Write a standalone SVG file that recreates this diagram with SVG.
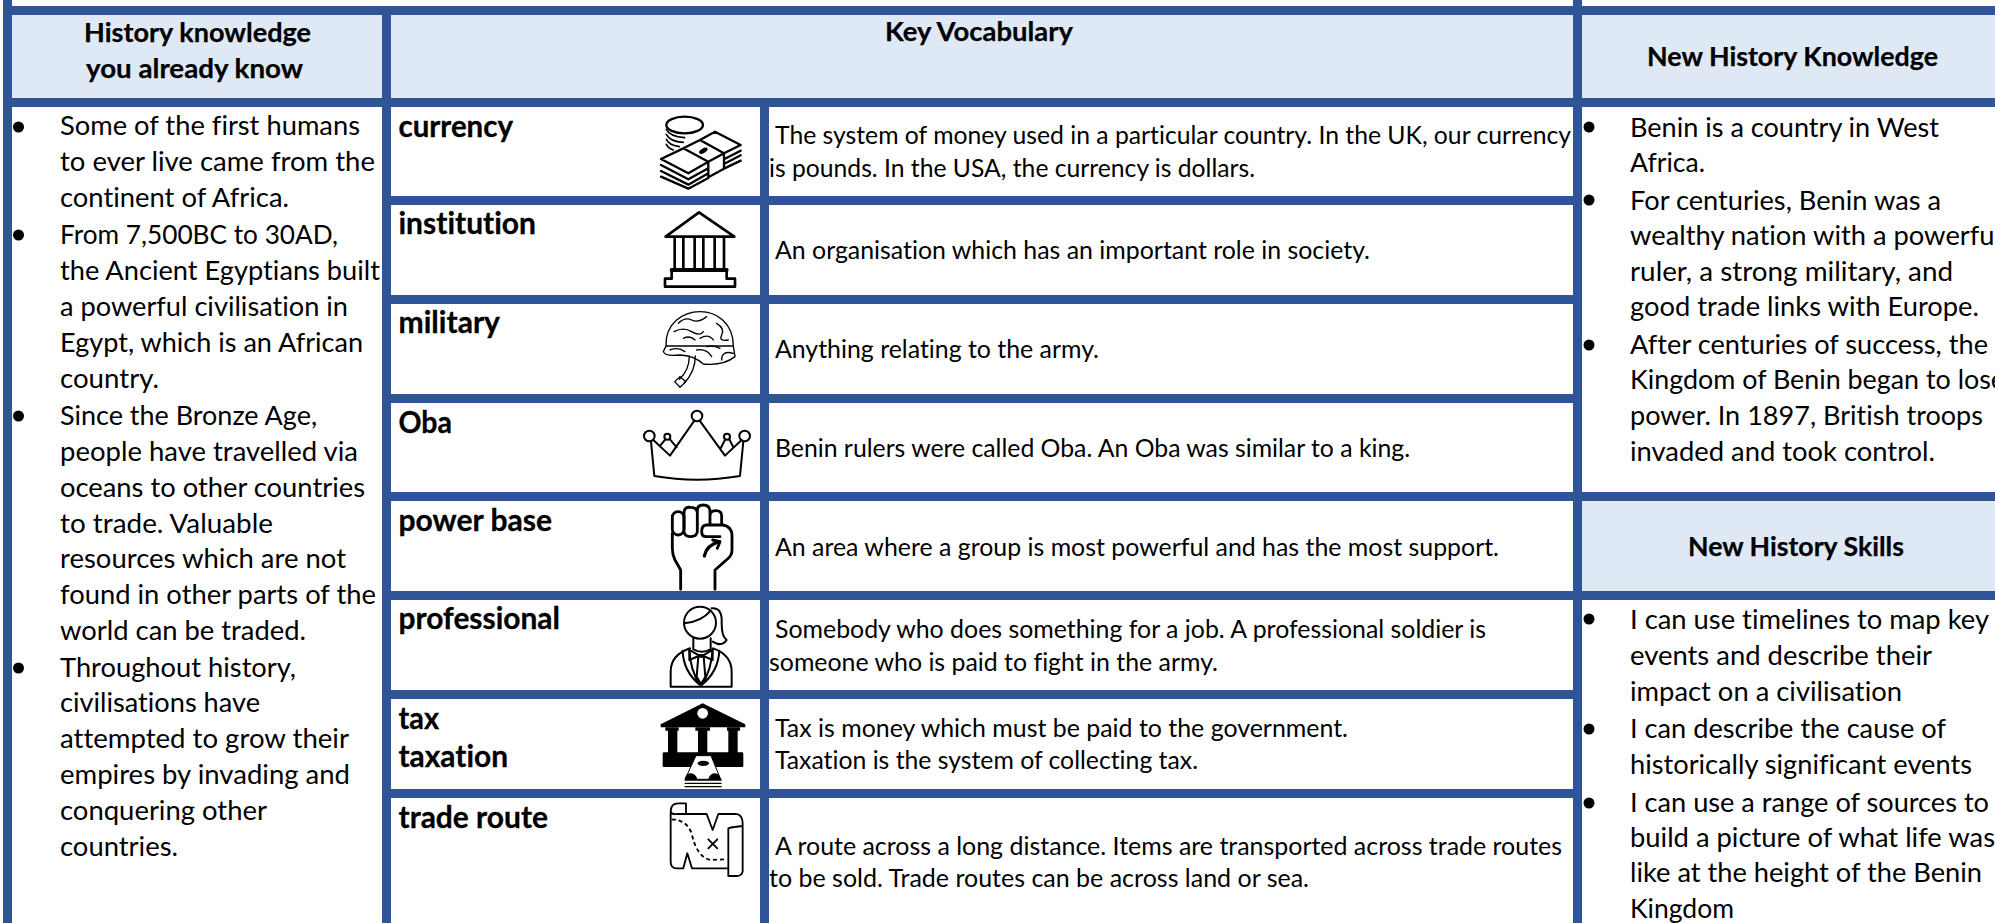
<svg xmlns="http://www.w3.org/2000/svg" width="1995" height="923" viewBox="0 0 1995 923">
<style>
text{font-family:Lato,"Liberation Sans",sans-serif;fill:#000;font-variant-ligatures:none}
.b{font-size:27.5px}
.d{font-size:24.5px}
.w{font-size:29.5px;font-weight:700;stroke:#000;stroke-width:.3}
.h{font-size:27.5px;font-weight:700;stroke:#000;stroke-width:.25}
.bar{fill:#2F5597}
.hd{fill:#DEE9F5}
.i{fill:none;stroke:#000;stroke-width:7;stroke-linejoin:round;stroke-linecap:round}
.t{stroke-width:4}
.k{fill:#000;stroke:none}
</style>
<rect width="1995" height="923" fill="#fff"/>
<g id="headers-fill">
<rect class="hd" x="12" y="15" width="370" height="83"/>
<rect class="hd" x="391" y="15" width="1182" height="83"/>
<rect class="hd" x="1582" y="15" width="413" height="83"/>
<rect class="hd" x="1582" y="501" width="413" height="90"/>
</g>
<g id="grid">
<rect class="bar" x="3" y="6" width="1992" height="9"/>
<rect class="bar" x="3" y="98" width="1992" height="9"/>
<rect class="bar" x="3" y="0" width="9" height="923"/>
<rect class="bar" x="382" y="6" width="9" height="917"/>
<rect class="bar" x="760" y="98" width="9" height="825"/>
<rect class="bar" x="1573" y="0" width="9" height="923"/>
<rect class="bar" x="382" y="196" width="1191" height="9"/>
<rect class="bar" x="382" y="295" width="1191" height="9"/>
<rect class="bar" x="382" y="394" width="1191" height="9"/>
<rect class="bar" x="382" y="492" width="1613" height="9"/>
<rect class="bar" x="382" y="591" width="1613" height="9"/>
<rect class="bar" x="382" y="690" width="1191" height="9"/>
<rect class="bar" x="382" y="789" width="1191" height="9"/>
</g>
<g id="header-known">
<text class="h" x="84" y="42" textLength="227" lengthAdjust="spacingAndGlyphs">History knowledge</text>
<text class="h" x="86" y="78" textLength="217" lengthAdjust="spacingAndGlyphs">you already know</text>
</g>
<g id="header-vocab"><text class="h" x="885" y="41" textLength="188" lengthAdjust="spacingAndGlyphs">Key Vocabulary</text></g>
<g id="header-new-knowledge"><text class="h" x="1647" y="66" textLength="291" lengthAdjust="spacingAndGlyphs">New History Knowledge</text></g>
<g id="header-new-skills"><text class="h" x="1688" y="556" textLength="216" lengthAdjust="spacingAndGlyphs">New History Skills</text></g>
<g id="known-list">
<circle cx="18.5" cy="127" r="5.5"/><circle cx="18.5" cy="235" r="5.5"/><circle cx="18.5" cy="416" r="5.5"/><circle cx="18.5" cy="668" r="5.5"/>
<text class="b" x="60" y="135" textLength="300" lengthAdjust="spacingAndGlyphs">Some of the first humans</text>
<text class="b" x="60" y="171" textLength="315" lengthAdjust="spacingAndGlyphs">to ever live came from the</text>
<text class="b" x="60" y="207" textLength="229" lengthAdjust="spacingAndGlyphs">continent of Africa.</text>
<text class="b" x="60" y="244" textLength="278" lengthAdjust="spacingAndGlyphs">From 7,500BC to 30AD,</text>
<text class="b" x="60" y="280" textLength="320" lengthAdjust="spacingAndGlyphs">the Ancient Egyptians built</text>
<text class="b" x="60" y="316" textLength="288" lengthAdjust="spacingAndGlyphs">a powerful civilisation in</text>
<text class="b" x="60" y="352" textLength="303" lengthAdjust="spacingAndGlyphs">Egypt, which is an African</text>
<text class="b" x="60" y="388" textLength="99" lengthAdjust="spacingAndGlyphs">country.</text>
<text class="b" x="60" y="425" textLength="257" lengthAdjust="spacingAndGlyphs">Since the Bronze Age,</text>
<text class="b" x="60" y="461" textLength="298" lengthAdjust="spacingAndGlyphs">people have travelled via</text>
<text class="b" x="60" y="497" textLength="305" lengthAdjust="spacingAndGlyphs">oceans to other countries</text>
<text class="b" x="60" y="533" textLength="213" lengthAdjust="spacingAndGlyphs">to trade. Valuable</text>
<text class="b" x="60" y="568" textLength="286" lengthAdjust="spacingAndGlyphs">resources which are not</text>
<text class="b" x="60" y="604" textLength="316" lengthAdjust="spacingAndGlyphs">found in other parts of the</text>
<text class="b" x="60" y="640" textLength="246" lengthAdjust="spacingAndGlyphs">world can be traded.</text>
<text class="b" x="60" y="677" textLength="236" lengthAdjust="spacingAndGlyphs">Throughout history,</text>
<text class="b" x="60" y="712" textLength="200" lengthAdjust="spacingAndGlyphs">civilisations have</text>
<text class="b" x="60" y="748" textLength="289" lengthAdjust="spacingAndGlyphs">attempted to grow their</text>
<text class="b" x="60" y="784" textLength="290" lengthAdjust="spacingAndGlyphs">empires by invading and</text>
<text class="b" x="60" y="820" textLength="207" lengthAdjust="spacingAndGlyphs">conquering other</text>
<text class="b" x="60" y="856" textLength="118" lengthAdjust="spacingAndGlyphs">countries.</text>
</g>
<g id="word-currency"><text class="w" x="398.5" y="137" textLength="114.5" lengthAdjust="spacingAndGlyphs">currency</text></g>
<g id="word-institution"><text class="w" x="398.5" y="234" textLength="137.5" lengthAdjust="spacingAndGlyphs">institution</text></g>
<g id="word-military"><text class="w" x="398.5" y="333" textLength="101.5" lengthAdjust="spacingAndGlyphs">military</text></g>
<g id="word-oba"><text class="w" x="398.5" y="433" textLength="53.5" lengthAdjust="spacingAndGlyphs">Oba</text></g>
<g id="word-power-base"><text class="w" x="398.5" y="531" textLength="153.5" lengthAdjust="spacingAndGlyphs">power base</text></g>
<g id="word-professional"><text class="w" x="398.5" y="629" textLength="161.5" lengthAdjust="spacingAndGlyphs">professional</text></g>
<g id="word-tax"><text class="w" x="398.5" y="729" textLength="40.5" lengthAdjust="spacingAndGlyphs">tax</text><text class="w" x="398.5" y="767" textLength="109.5" lengthAdjust="spacingAndGlyphs">taxation</text></g>
<g id="word-trade-route"><text class="w" x="398.5" y="828" textLength="149.5" lengthAdjust="spacingAndGlyphs">trade route</text></g>

<g id="icon-money" transform="translate(600 90) scale(.3333)">
<ellipse class="i" cx="254" cy="105" rx="55" ry="25"/>
<path class="i" style="stroke-width:5" d="M199 118Q210 140 254 143M199 133Q210 155 250 157M199 148Q205 165 238 170M199 163Q205 175 220 180"/>
<path class="i" d="M183 207L250 175L325 215L265 250ZM250 175L300 150L372 190L325 215M300 150L345 125L422 165L372 190M325 215V262L372 236V190M183 225L265 268L325 235M183 243L265 284L325 250M183 260L265 296L325 264M372 208L422 182M372 222L422 196M372 236L422 212"/>
<ellipse class="k" cx="310" cy="182" rx="14" ry="7" transform="rotate(-30 310 182)"/>
</g>
<g id="icon-institution" transform="translate(600 90) scale(.3333)">
<path class="i" style="stroke-width:8" d="M297 367L197 440H403Z"/>
<path class="i" style="stroke-width:8" d="M224 445V535M250 445V535M284 445V535M310 445V535M344 445V535M372 445V535"/>
<path class="i" style="stroke-width:12" d="M215 540H380"/>
<path class="i" style="stroke-width:8" d="M215 542V566H195V590H405V566H380V542"/>
</g>
<g id="icon-military" transform="translate(600 90) scale(.3333)">
<path class="i t" d="M198 768C195 700 250 665 300 665C350 665 400 700 400 768M198 768L190 785Q195 800 240 795Q280 796 310 822Q370 828 405 800L400 768ZM198 768H400"/>
<path class="i t" d="M235 700Q255 680 275 690T320 680M222 725Q250 710 275 725T310 725M300 745Q325 730 340 750M350 700Q375 715 365 735T385 750M250 745Q270 735 285 750M210 780Q235 770 255 785M290 780Q320 775 335 800M365 810Q365 780 400 790M320 770Q340 765 360 775"/>
<path class="i t" d="M268 798Q268 840 238 868M286 798Q286 845 252 880"/>
<path class="i t" d="M224 875L240 860L258 875L240 892Z"/>
</g>
<g id="icon-oba" transform="translate(600 90) scale(.3333)">
<g class="i" style="stroke-width:6">
<circle cx="291" cy="978" r="16"/><circle cx="148" cy="1038" r="16"/><circle cx="434" cy="1038" r="16"/><circle cx="202" cy="1040" r="9"/><circle cx="381" cy="1040" r="9"/>
<path d="M153 1055L163 1158Q290 1180 420 1158L430 1055M160 1050L210 1097L283 992M299 992L375 1097L425 1050M180 1068L196 1048M210 1048L230 1072M362 1075L376 1048M388 1048L400 1072"/>
</g>
</g>
<g id="icon-power-base" transform="translate(600 490) scale(.3333)">
<g class="i" style="stroke-width:8.5">
<rect x="217" y="65" width="35" height="70" rx="17"/>
<path d="M252 120V68Q252 50 272 52Q290 52 292 68V125Q290 140 272 140Q255 140 252 125M292 68V60Q292 45 310 45Q328 45 330 62V102M330 75Q332 62 348 62Q365 62 365 78V102"/>
<path d="M305 125Q305 105 320 105H370Q395 110 396 135V180Q396 195 385 205L345 240V298M217 130V175Q217 195 225 210L242 240V298M305 125Q305 140 320 140H360"/>
<path style="stroke-width:10" d="M313 198Q320 165 358 155"/>
<path d="M338 150L360 155L352 175"/>
</g>
</g>
<g id="icon-professional" transform="translate(600 490) scale(.3333)">
<g class="i" style="stroke-width:6">
<circle cx="300" cy="398" r="48"/>
<path d="M253 400Q305 395 332 362M335 355Q368 352 365 400Q365 440 380 450Q365 472 338 455"/>
<path d="M280 445V478M332 445V478M280 478Q305 492 332 478"/>
<path d="M212 590V545Q212 495 270 475M395 590V545Q395 495 340 475M212 590H395"/>
<path d="M248 482Q250 545 300 585M268 476Q270 540 300 585M358 482Q355 545 305 585M338 476Q335 540 305 585"/>
<path d="M268 480L303 500L338 480L338 510L303 495L268 510ZM295 500H311L316 560L303 582L290 560Z"/>
</g>
</g>
<g id="icon-tax" transform="translate(600 490) scale(.3333)">
<path class="k" d="M308 640L436 703V712H182V703Z"/>
<circle cx="308" cy="670" r="16" fill="#fff"/>
<path class="k" d="M196 712H236V722H232V790H204V722H196ZM286 712H330V722H322V790H294V722H286ZM381 712H420V722H413V790H385V722H381Z"/>
<rect class="k" x="188" y="787" width="242" height="44" rx="4"/>
<path d="M288 797H333L362 868H255Z" fill="#fff" stroke="#000" stroke-width="3"/>
<ellipse class="k" cx="310" cy="820" rx="17" ry="8"/>
<path class="k" d="M255 868Q258 850 272 850Q288 852 292 868ZM325 868Q330 850 345 850Q360 852 362 868Z"/>
<path class="i" style="stroke-width:4;stroke-linecap:butt" d="M254 870H365M254 880H365M254 890H365"/>
</g>
<g id="icon-trade-route" transform="translate(600 490) scale(.3333)">
<g class="i" style="stroke-width:5.5">
<path d="M212 965Q212 940 235 940H258V972M212 965Q215 975 235 972H320L338 1020L355 972H408Q428 975 428 1000V1145Q425 1158 410 1158H385V1015Q400 1010 428 1008M212 965V1115Q212 1135 230 1135H250L262 1090L276 1135H385"/>
<path d="M215 988Q260 990 275 1030Q290 1100 330 1110L380 1108" stroke-dasharray="12 9" stroke-linecap="butt"/>
<path d="M325 1048L352 1075M352 1048L325 1075"/>
</g>
</g>

<g id="def-currency">
<text class="d" x="775" y="144" textLength="796" lengthAdjust="spacingAndGlyphs">The system of money used in a particular country. In the UK, our currency</text>
<text class="d" x="769" y="177" textLength="486" lengthAdjust="spacingAndGlyphs">is pounds. In the USA, the currency is dollars.</text>
</g>
<g id="def-institution"><text class="d" x="775" y="259" textLength="595" lengthAdjust="spacingAndGlyphs">An organisation which has an important role in society.</text></g>
<g id="def-military"><text class="d" x="775" y="358" textLength="324" lengthAdjust="spacingAndGlyphs">Anything relating to the army.</text></g>
<g id="def-oba"><text class="d" x="775" y="457" textLength="635" lengthAdjust="spacingAndGlyphs">Benin rulers were called Oba. An Oba was similar to a king.</text></g>
<g id="def-power-base"><text class="d" x="775" y="556" textLength="724" lengthAdjust="spacingAndGlyphs">An area where a group is most powerful and has the most support.</text></g>
<g id="def-professional">
<text class="d" x="775" y="638" textLength="711" lengthAdjust="spacingAndGlyphs">Somebody who does something for a job. A professional soldier is</text>
<text class="d" x="769" y="671" textLength="449" lengthAdjust="spacingAndGlyphs">someone who is paid to fight in the army.</text>
</g>
<g id="def-tax">
<text class="d" x="775" y="737" textLength="573" lengthAdjust="spacingAndGlyphs">Tax is money which must be paid to the government.</text>
<text class="d" x="775" y="769" textLength="423" lengthAdjust="spacingAndGlyphs">Taxation is the system of collecting tax.</text>
</g>
<g id="def-trade-route">
<text class="d" x="775" y="855" textLength="787" lengthAdjust="spacingAndGlyphs">A route across a long distance. Items are transported across trade routes</text>
<text class="d" x="769" y="887" textLength="540" lengthAdjust="spacingAndGlyphs">to be sold. Trade routes can be across land or sea.</text>
</g>

<g id="new-knowledge-list">
<circle cx="1589" cy="127" r="5.5"/><circle cx="1589" cy="200" r="5.5"/><circle cx="1589" cy="345" r="5.5"/>
<text class="b" x="1630" y="137" textLength="309" lengthAdjust="spacingAndGlyphs">Benin is a country in West</text>
<text class="b" x="1630" y="172" textLength="75" lengthAdjust="spacingAndGlyphs">Africa.</text>
<text class="b" x="1630" y="210" textLength="311" lengthAdjust="spacingAndGlyphs">For centuries, Benin was a</text>
<text class="b" x="1630" y="245" textLength="371" lengthAdjust="spacingAndGlyphs">wealthy nation with a powerful</text>
<text class="b" x="1630" y="281" textLength="323" lengthAdjust="spacingAndGlyphs">ruler, a strong military, and</text>
<text class="b" x="1630" y="316" textLength="349" lengthAdjust="spacingAndGlyphs">good trade links with Europe.</text>
<text class="b" x="1630" y="354" textLength="358" lengthAdjust="spacingAndGlyphs">After centuries of success, the</text>
<text class="b" x="1630" y="389" textLength="375" lengthAdjust="spacingAndGlyphs">Kingdom of Benin began to lose</text>
<text class="b" x="1630" y="425" textLength="353" lengthAdjust="spacingAndGlyphs">power. In 1897, British troops</text>
<text class="b" x="1630" y="461" textLength="305" lengthAdjust="spacingAndGlyphs">invaded and took control.</text>
</g>
<g id="new-skills-list">
<circle cx="1589" cy="619" r="5.5"/><circle cx="1589" cy="729" r="5.5"/><circle cx="1589" cy="803" r="5.5"/>
<text class="b" x="1630" y="629" textLength="359" lengthAdjust="spacingAndGlyphs">I can use timelines to map key</text>
<text class="b" x="1630" y="665" textLength="302" lengthAdjust="spacingAndGlyphs">events and describe their</text>
<text class="b" x="1630" y="701" textLength="272" lengthAdjust="spacingAndGlyphs">impact on a civilisation</text>
<text class="b" x="1630" y="738" textLength="316" lengthAdjust="spacingAndGlyphs">I can describe the cause of</text>
<text class="b" x="1630" y="774" textLength="342" lengthAdjust="spacingAndGlyphs">historically significant events</text>
<text class="b" x="1630" y="812" textLength="359" lengthAdjust="spacingAndGlyphs">I can use a range of sources to</text>
<text class="b" x="1630" y="847" textLength="365" lengthAdjust="spacingAndGlyphs">build a picture of what life was</text>
<text class="b" x="1630" y="882" textLength="352" lengthAdjust="spacingAndGlyphs">like at the height of the Benin</text>
<text class="b" x="1630" y="918" textLength="104" lengthAdjust="spacingAndGlyphs">Kingdom</text>
</g>
</svg>
